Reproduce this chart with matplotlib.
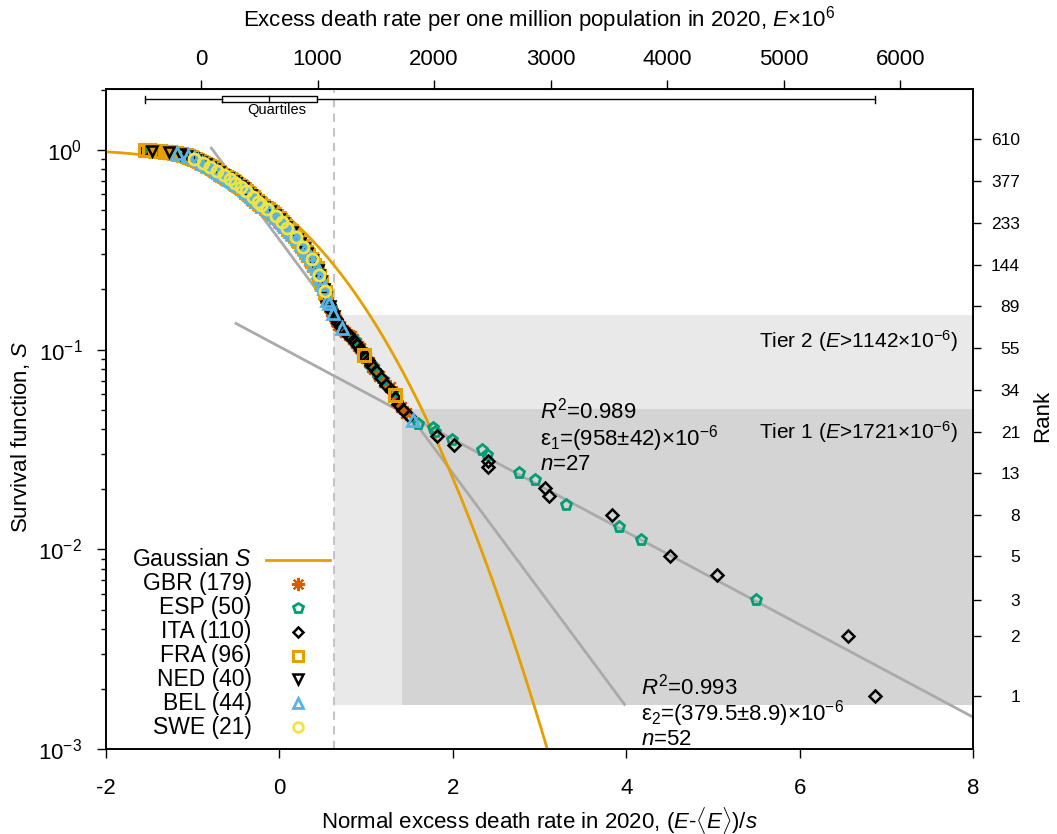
import math
import numpy as np
import pandas as pd
import matplotlib
matplotlib.use("Agg")
import matplotlib.pyplot as plt
from matplotlib.ticker import NullLocator, FixedLocator

plt.rcParams['font.family'] = ['Liberation Sans', 'DejaVu Sans']
plt.rcParams['mathtext.fontset'] = 'custom'
plt.rcParams['mathtext.rm'] = 'Liberation Sans'
plt.rcParams['mathtext.it'] = 'Liberation Sans:italic'
plt.rcParams['mathtext.bf'] = 'Liberation Sans:bold'
plt.rcParams['axes.unicode_minus'] = False

# normal excess death rate (E-<E>)/s of each region ---------------------------
gbr = [-1.52, -1.45, -1.35, -1.28, -1.24, -1.20, -1.16, -1.12,
       -1.09, -1.08, -1.06, -1.05, -1.03, -1.02, -1.00, -0.99, -0.97, -0.96, -0.94, -0.93,
       -0.92, -0.90, -0.89, -0.88, -0.86, -0.85, -0.84, -0.82, -0.81, -0.80,
       -0.78, -0.77, -0.76, -0.74, -0.73, -0.72, -0.71, -0.70, -0.69, -0.68,
       -0.67, -0.65, -0.64, -0.63, -0.61, -0.60, -0.58, -0.57, -0.55, -0.54, -0.53,
       -0.52, -0.50, -0.49, -0.48, -0.47, -0.45, -0.44, -0.43, -0.42, -0.41, -0.40,
       -0.39, -0.38, -0.37, -0.36, -0.35, -0.34, -0.33, -0.32, -0.31, -0.30,
       -0.29, -0.28, -0.26, -0.25, -0.23,
       -0.22, -0.20, -0.19, -0.17, -0.15, -0.14, -0.12, -0.10, -0.09,
       -0.08, -0.07, -0.06, -0.04, -0.03, -0.02, -0.01, 0.01, 0.02, 0.03, 0.04, 0.05,
       0.06, 0.08, 0.09, 0.10, 0.11, 0.13, 0.14, 0.15, 0.16, 0.18, 0.19, 0.20, 0.21,
       0.22, 0.23, 0.24, 0.25, 0.26, 0.27, 0.29, 0.30, 0.31, 0.32, 0.33,
       0.34, 0.35, 0.37, 0.38, 0.39, 0.41,
       0.42, 0.43, 0.43, 0.44, 0.45, 0.45, 0.46, 0.47, 0.47, 0.48, 0.49, 0.49,
       0.50, 0.51, 0.52, 0.52, 0.53, 0.54, 0.54, 0.55,
       0.56, 0.57, 0.58, 0.59, 0.60, 0.61, 0.62, 0.64, 0.65, 0.66, 0.68,
       0.70, 0.73, 0.76, 0.80, 0.82, 0.85, 0.88, 0.91,
       0.93, 0.96, 1.00, 1.03, 1.07, 1.09, 1.15, 1.21, 1.28, 1.35, 1.40, 1.46]
esp = [-1.48, -1.21, -1.03, -0.96, -0.90, -0.84, -0.78, -0.72, -0.69,
       -0.62, -0.55, -0.48, -0.41, -0.37, -0.32, -0.28, -0.24, -0.15,
       -0.06, -0.01, 0.04, 0.11, 0.17, 0.24, 0.29, 0.32, 0.39, 0.45, 0.48,
       0.53, 0.59, 0.66, 0.86, 0.95, 1.04, 1.13, 1.19, 1.31, 1.60,
       1.77, 1.79, 1.99, 2.34, 2.39, 2.76, 2.95, 3.30, 3.92, 4.17, 5.50]
ita = [-1.55, -1.41, -1.24, -1.13, -1.08, -1.04, -1.00, -0.97, -0.93,
       -0.91, -0.89, -0.87, -0.85, -0.83, -0.81, -0.79, -0.77, -0.75, -0.73, -0.71, -0.69, -0.68,
       -0.66, -0.63, -0.61, -0.58, -0.56, -0.53,
       -0.51, -0.49, -0.47, -0.45, -0.42, -0.40,
       -0.38, -0.36, -0.34, -0.32, -0.30, -0.28, -0.27, -0.25, -0.24,
       -0.21, -0.17, -0.13, -0.09,
       -0.07, -0.05, -0.02, 0.00, 0.02, 0.05,
       0.07, 0.09, 0.12, 0.14, 0.17, 0.19, 0.21,
       0.23, 0.25, 0.28, 0.30, 0.33, 0.35, 0.38, 0.41,
       0.43, 0.44, 0.46, 0.47, 0.49, 0.51, 0.53, 0.55, 0.57, 0.60,
       0.63, 0.65, 0.68, 0.71, 0.75, 0.79,
       0.83, 0.87, 0.90, 0.94, 0.98, 1.02, 1.06,
       1.11, 1.17, 1.23, 1.29, 1.33, 1.37, 1.42, 1.50,
       1.82, 2.01, 2.40, 2.41, 3.06, 3.11, 3.84, 4.50, 5.05, 6.56, 6.87]
fra = [-1.55, -1.50, -1.43, -1.38, -1.32, -1.29, -1.26, -1.22, -1.19, -1.17, -1.14, -1.11,
       -1.10, -1.08, -1.07, -1.05, -1.04, -1.02, -1.01, -0.99, -0.97, -0.95, -0.93,
       -0.91, -0.90, -0.88, -0.86, -0.84, -0.83, -0.81, -0.79, -0.78, -0.76,
       -0.74, -0.73, -0.71, -0.70, -0.68,
       -0.66, -0.64, -0.62, -0.60, -0.59, -0.57, -0.56, -0.54, -0.52,
       -0.51, -0.50, -0.48, -0.46, -0.44, -0.43, -0.41, -0.39,
       -0.38, -0.36, -0.35, -0.33, -0.31, -0.29, -0.27, -0.26, -0.24,
       -0.22, -0.19, -0.16, -0.13, -0.11, -0.08,
       -0.06, -0.04, -0.01, 0.01, 0.03, 0.05,
       0.07, 0.10, 0.13, 0.15, 0.18, 0.21,
       0.23, 0.26, 0.28, 0.31, 0.33,
       0.36, 0.38, 0.40, 0.43, 0.46, 0.48, 0.52, 0.97, 1.33]
ned = [-1.47, -1.27, -1.15, -1.06, -1.00, -0.95, -0.90, -0.85, -0.80, -0.75, -0.70,
       -0.65, -0.59, -0.54, -0.50, -0.46, -0.42, -0.37, -0.33, -0.29, -0.25,
       -0.18, -0.11, -0.05, 0.00, 0.04, 0.08, 0.14, 0.20, 0.24, 0.28, 0.32,
       0.37, 0.44, 0.46, 0.48, 0.51, 0.54, 0.58, 0.63]
bel = [-1.18, -1.05, -0.99, -0.94, -0.89, -0.82, -0.77, -0.72, -0.67,
       -0.63, -0.58, -0.53, -0.49, -0.45, -0.40, -0.37, -0.33, -0.30, -0.26,
       -0.20, -0.12, -0.07, -0.03, 0.02, 0.05, 0.07, 0.12, 0.16, 0.20,
       0.25, 0.29, 0.33, 0.36, 0.40, 0.43, 0.45, 0.47, 0.49, 0.51, 0.55,
       0.57, 0.62, 0.72, 1.54]
swe = [-0.98, -0.88, -0.80, -0.72, -0.64, -0.57, -0.51, -0.44, -0.38, -0.31, -0.25,
       -0.21, -0.14, -0.04, 0.03, 0.09, 0.19, 0.27, 0.37, 0.46, 0.52]

countries = ['GBR', 'ESP', 'ITA', 'FRA', 'NED', 'BEL', 'SWE']
values = [gbr, esp, ita, fra, ned, bel, swe]

# mean and spread of E (per million), tier thresholds
E_mean, E_sd = 673.0, 744.0
tier_E = [1142, 1721]
tier_top = [0.149, 0.0504]
tier_bottom = 0.00167

# exponential fits, log10 S = a + b*z
fit1_a, fit1_b, fit1_z = -0.985, -0.2318, [-0.50, 8.0]
fit2_a, fit2_b, fit2_z = -0.450, -0.5843, [-0.785, 3.98]

fib = [1, 2, 3, 5, 8, 13, 21, 34, 55, 89, 144, 233, 377, 610]

styles = {
    'GBR': dict(marker=(8, 2, 0), color='#D55E00', ms=10.5, mew=1.6),
    'ESP': dict(marker='p', color='#009E73', ms=8, mew=2.0),
    'ITA': dict(marker='D', color='black', ms=6, mew=1.8),
    'FRA': dict(marker='s', color='#E69F00', ms=8.5, mew=2.2),
    'NED': dict(marker='v', color='black', ms=7.5, mew=1.8),
    'BEL': dict(marker='^', color='#56B4E9', ms=8, mew=2.0),
    'SWE': dict(marker='o', color='#F0E442', ms=8, mew=2.0),
}

# survival function from ranks ---------------------------------------------
df = pd.concat([pd.DataFrame({'country': c, 'z': v}) for c, v in zip(countries, values)],
               ignore_index=True)
N = len(df)
df['rank'] = df['z'].rank(ascending=False, method='first')
df['S'] = df['rank'] / N

fig = plt.figure(figsize=(10.57, 8.34), dpi=100)
ax = fig.add_axes([0.1003, 0.1016, 0.8203, 0.7914])
ax.set_yscale('log')
ax.set_xlim(-2, 8)
ax.set_ylim(1e-3, 2.01)

# tiers
z_t = [(e - E_mean) / E_sd for e in tier_E]
ax.fill_between([z_t[0], 8], tier_bottom, tier_top[0], color='#e9e9e9', lw=0, zorder=0)
ax.fill_between([z_t[1], 8], tier_bottom, tier_top[1], color='#d4d4d4', lw=0, zorder=0)
ax.axvline(z_t[0], color='#c4c4c4', lw=1.5, ls=(0, (4, 3)), zorder=1)

# fits
for a, b, zz in [(fit1_a, fit1_b, fit1_z), (fit2_a, fit2_b, fit2_z)]:
    zz = np.array(zz)
    ax.plot(zz, 10 ** (a + b * zz), color='#aaaaaa', lw=2, zorder=2)

# gaussian
zg = np.linspace(-2, 3.3, 400)
Sg = np.array([0.5 * math.erfc(v / math.sqrt(2)) for v in zg])
ax.plot(zg, Sg, color='#E69F00', lw=2, zorder=3)

for c in countries:
    d = df[df['country'] == c]
    st = styles[c]
    ax.plot(d['z'], d['S'], ls='none', marker=st['marker'], ms=st['ms'], mew=st['mew'],
            mfc='none', mec=st['color'], zorder=5)

# boxplot of the quartiles at the top
zall = df['z'].values
q1, med, q3 = np.percentile(zall, [25, 50, 75])
zmin, zmax = zall.min(), zall.max()
tr = ax.get_xaxis_transform()
yw, hb, hc = 0.9848, 0.0046, 0.0050
ax.plot([zmin, q1], [yw, yw], color='black', lw=1, transform=tr, zorder=6)
ax.plot([q3, zmax], [yw, yw], color='black', lw=1, transform=tr, zorder=6)
for zc in [zmin, zmax]:
    ax.plot([zc, zc], [yw - hc, yw + hc], color='black', lw=1, transform=tr, zorder=6)
ax.plot([q1, q3, q3, q1, q1], [yw - hb, yw - hb, yw + hb, yw + hb, yw - hb],
        color='black', lw=1, transform=tr, zorder=6)
ax.plot([med, med], [yw - hb, yw + hb], color='black', lw=1, transform=tr, zorder=6)
ax.text(0.197, 0.968, 'Quartiles', transform=ax.transAxes, ha='center', va='center', fontsize=10.5)

# annotations
fs = 16.5
fa = 16
for i, s in enumerate([r'$R^2$=0.989', r'ε$_1$=(958±42)×10$^{-6}$', r'$n$=27']):
    ax.text(0.5006, [0.5135, 0.4712, 0.4320][i], s, transform=ax.transAxes,
            ha='left', va='center', fontsize=fa)
for i, s in enumerate([r'$R^2$=0.993', r'ε$_2$=(379.5±8.9)×10$^{-6}$', r'$n$=52']):
    ax.text(0.617, [0.0955, 0.0540, 0.0155][i], s, transform=ax.transAxes,
            ha='left', va='center', fontsize=fa)
ax.text(0.9827, 0.618, r'Tier 2 ($E$>1142×10$^{-6}$)', transform=ax.transAxes,
        ha='right', va='center', fontsize=15)
ax.text(0.9827, 0.480, r'Tier 1 ($E$>1721×10$^{-6}$)', transform=ax.transAxes,
        ha='right', va='center', fontsize=15)

# legend
ly0, ldy = 0.2868, 0.0362
ax.text(0.168, ly0, r'Gaussian $S$', transform=ax.transAxes, ha='right', va='center', fontsize=fs)
ax.plot([0.185, 0.258], [ly0, ly0], transform=ax.transAxes, color='#E69F00', lw=2, clip_on=False)
for i, (c, v) in enumerate(zip(countries, values)):
    y = ly0 - (i + 1) * ldy
    st = styles[c]
    ax.text(0.168, y, f'{c} ({len(v)})', transform=ax.transAxes, ha='right', va='center', fontsize=fs)
    ax.plot([0.2215], [y], transform=ax.transAxes, ls='none', marker=st['marker'],
            ms=st['ms'] - 1, mew=st['mew'], mfc='none', mec=st['color'], clip_on=False, zorder=7)

# axes
ax.set_xticks([-2, 0, 2, 4, 6, 8])
ax.xaxis.set_minor_locator(NullLocator())
ax.tick_params(axis='x', which='major', direction='out', length=6.5, width=1, pad=14.5, labelsize=16)
ax.tick_params(axis='y', which='major', direction='out', length=6.5, width=1, pad=10.5, labelsize=16)
ax.tick_params(axis='y', which='minor', direction='out', length=3.5, width=1)
ax.tick_params(top=False, right=False, which='both')
for sp in ax.spines.values():
    sp.set_linewidth(1.2)
ax.set_xlabel(r'Normal excess death rate in 2020, ($E$-$\langle E\rangle$)/$s$', fontsize=16)
ax.xaxis.set_label_coords(0.5, -0.084)
ax.set_ylabel(r'Survival function, $S$', fontsize=16)
ax.yaxis.set_label_coords(-0.085, 0.474)

sec = ax.secondary_xaxis('top', functions=(lambda z: E_mean + E_sd * z,
                                           lambda e: (e - E_mean) / E_sd))
sec.set_xticks(range(0, 7000, 1000))
sec.xaxis.set_minor_locator(NullLocator())
sec.tick_params(axis='x', direction='out', length=6.5, width=1, pad=7, labelsize=16)
sec.set_xlabel(r'Excess death rate per one million population in 2020, $E$×10$^6$',
               fontsize=16)
sec.xaxis.set_label_coords(0.5, 1.095, transform=ax.transAxes)

ax2 = ax.twinx()
ax2.set_yscale('log')
ax2.set_ylim(1e-3 * N, 2.01 * N)
ax2.yaxis.set_major_locator(FixedLocator(fib))
ax2.yaxis.set_minor_locator(NullLocator())
ax2.set_yticklabels([str(f) for f in fib])
ax2.tick_params(axis='y', direction='out', length=6, width=1, pad=27.8, labelsize=12.5)
for lbl in ax2.get_yticklabels():
    lbl.set_horizontalalignment('right')
for sp in ax2.spines.values():
    sp.set_linewidth(1.2)
ax2.set_ylabel('Rank', fontsize=16)
ax2.yaxis.set_label_coords(1.068, 0.505)

fig.savefig('out.png', dpi=100)
